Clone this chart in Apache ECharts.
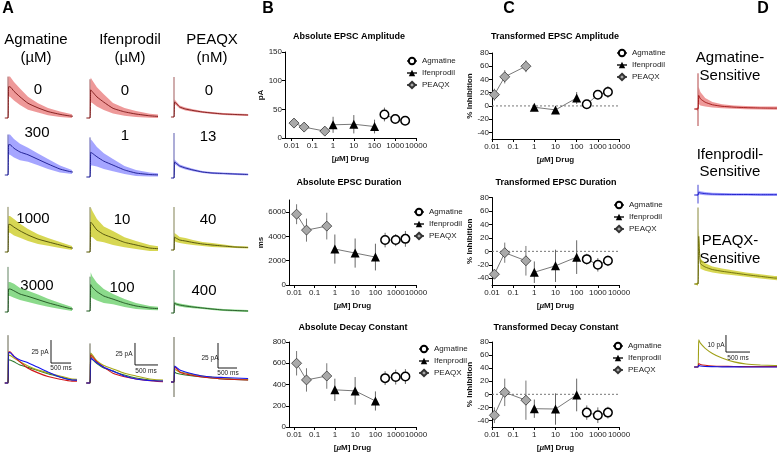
<!DOCTYPE html>
<html><head><meta charset="utf-8">
<script src="https://cdn.jsdelivr.net/npm/echarts@6/dist/echarts.min.js"></script>
<style>html,body{margin:0;padding:0;background:#fff}#c{width:781px;height:454px}</style>
</head><body><div id="c"></div>
<script>
// ================= DATA =================
// Panels B / C : concentrations in µM
const agmConc = [300, 1000, 3000];
const ifenConc = [1, 10, 100];
const peaqxConc = [0.013, 0.04, 0.4];
const xTicks = [0.01, 0.1, 1, 10, 100, 1000, 10000];
const xTickLabels = ['0.01', '0.1', '1', '10', '100', '1000', '10000'];

// B1 Absolute EPSC Amplitude (pA)
const ampAgm = [41, 33, 30], ampAgmErr = [12, 7, 5];
const ampIfen = [23, 24, 20], ampIfenErr = [14, 16, 12];
const ampPeaqx = [26, 19, 12], ampPeaqxErr = [3, 3, 3];
const ampTicks = [0, 50, 100, 150];
// B2 Absolute EPSC Duration (ms)
const durAgm = [3700, 3700, 3800], durAgmErr = [600, 500, 650];
const durIfen = [2960, 2630, 2300], durIfenErr = [1200, 1200, 1100];
const durPeaqx = [5830, 4520, 4850], durPeaqxErr = [820, 950, 1100];
const durTicks = [0, 2000, 4000, 6000];
// B3 Absolute Decay Constant
const decAgm = [460, 470, 475], decAgmErr = [65, 70, 70];
const decIfen = [350, 340, 245], decIfenErr = [105, 130, 90];
const decPeaqx = [600, 443, 480], decPeaqxErr = [115, 110, 120];
const decTicks = [0, 200, 400, 600, 800];
// C1 Transformed EPSC Amplitude (% inhibition)
const tAmpAgm = [2.5, 17, 21], tAmpAgmErr = [3, 7, 9];
const tAmpIfen = [-2, -6, 12], tAmpIfenErr = [4, 5, 9];
const tAmpPeaqx = [17, 44, 60], tAmpPeaqxErr = [9, 10, 9];
// C2 Transformed EPSC Duration
const tDurAgm = [-11.6, -20, -14], tDurAgmErr = [8, 10, 8];
const tDurIfen = [-31, -21.5, -8.6], tDurIfenErr = [16, 24, 25];
const tDurPeaqx = [-34, -2, -14], tDurPeaqxErr = [7, 15, 22];
// C3 Transformed Decay Constant
const tDecAgm = [-28, -32, -28], tDecAgmErr = [11, 12, 9];
const tDecIfen = [-22, -22.5, -1], tDecIfenErr = [14, 24, 25];
const tDecPeaqx = [-32, 3, -9], tDecPeaqxErr = [12, 21, 30];
const inhTicks = [-40, -20, 0, 20, 40, 60, 80];

// Panel A : averaged EPSC traces (time ms, current pA, mean and SEM band)
const traceT = [-80, 0, 15, 50, 150, 300, 500, 750, 1000, 1300, 1600, 1950];
const agmLabels = ['0', '300', '1000', '3000'];
const ifenLabels = ['0', '1', '10', '100'];
const peaqxLabels = ['0', '13', '40', '400'];
const agm0Mean    = [0, 0, 34, 34, 29, 23, 16, 11, 7, 4, 2, 2];
const agm0Sem     = [0, 0.5, 11, 11, 10, 9, 7, 5, 4, 3, 2, 2];
const agm300Mean  = [0, 0, 33, 33, 29, 25, 22, 17, 12, 6.5, 3.3, 3];
const agm300Sem   = [0, 0.5, 11, 11, 10, 9, 7.5, 6.5, 5.4, 3.8, 2.2, 2.2];
const agm1000Mean = [0, 0, 30, 30, 27, 23, 18.5, 14, 11, 7.6, 4.3, 4];
const agm1000Sem  = [0, 0.5, 9, 9, 9, 7.6, 6.5, 5.4, 4.3, 3.3, 2.2, 2.2];
const agm3000Mean = [0, 0, 25, 25, 23, 19.5, 17, 13.5, 10, 6.5, 3.3, 3];
const agm3000Sem  = [0, 0.5, 7.6, 7.6, 7.6, 6.5, 6, 5.4, 4.3, 3.3, 2.2, 2.2];
const ifen0Mean   = [0, 0, 32, 30, 24, 18, 11, 7, 4.5, 2.5, 1.5, 1.5];
const ifen0Sem    = [0, 0.5, 14, 13, 11, 9, 6, 4.5, 3.4, 2.3, 1.7, 1.7];
const ifen1Mean   = [0, 0, 28, 27, 23, 18, 13.5, 8, 4.5, 2.8, 2.2, 2];
const ifen1Sem    = [0, 0.5, 15, 14, 11, 9, 7, 4.5, 3.4, 2.3, 1.7, 1.7];
const ifen10Mean  = [0, 0, 34, 32, 25, 20, 16, 11, 8, 4.5, 3.4, 3.4];
const ifen10Sem   = [0, 0.5, 17, 15, 12.5, 9, 8, 5.7, 4.5, 3.4, 2.3, 2.3];
const ifen100Mean = [0, 0, 30, 27, 22, 17, 13.5, 9, 5.7, 3.4, 2.3, 2.3];
const ifen100Sem  = [0, 0.5, 14, 12.5, 10, 8, 5.7, 4.5, 3.4, 2.3, 1.7, 1.7];
const peaqx0Mean   = [0, 0, 15, 14, 10, 8, 6.5, 5, 4, 3, 2.5, 2];
const peaqx0Sem    = [0, 0.5, 2.5, 2, 1.5, 1.5, 1.2, 1, 1, 1, 1, 1];
const peaqx13Mean  = [0, 0, 16, 15, 12, 10, 8, 6, 5, 4.5, 4, 3.5];
const peaqx13Sem   = [0, 0.5, 2.5, 2, 1.5, 1.5, 1.2, 1, 1, 1, 1, 1];
const peaqx40Mean  = [0, 0, 13, 12, 10, 9, 7.5, 6, 5, 4, 3, 2.5];
const peaqx40Sem   = [0, 0.5, 4, 4, 3, 3, 2.5, 2, 2, 1.5, 1, 1];
const peaqx400Mean = [0, 0, 10, 9, 8, 7, 6, 5, 4, 3, 2.5, 2];
const peaqx400Sem  = [0, 0.5, 1.5, 1.5, 1.5, 1.5, 1.2, 1, 1, 1, 1, 1];
const agmSpike = [45, 44, 49, 49];
const ifenSpike = [44, 45, 51, 39];
const peaqxSpike = [40, 45, 43, 43];
const ovlSpikeLo = [0, 0, -15];
const ovlSpikeHi = [52, 45, 45];
const scaleAmp = 25;   // pA
const scaleTime = 500; // ms

// Panel D : drug-sensitive difference traces
const dAgmMean   = [0, 0, 8, 6, 4, 2.5, 1.6, 1.1, 0.8, 0.6, 0.5, 0.5];
const dAgmSem    = [0, 1, 5, 4, 2.5, 1.6, 1.2, 1, 0.9, 0.9, 0.9, 0.9];
const dIfenMean  = [0, 0, 1.5, 1.2, 0.8, 0.5, 0.4, 0.3, 0.3, 0.2, 0.2, 0.2];
const dIfenSem   = [0, 0.5, 1.2, 1, 0.9, 0.8, 0.8, 0.8, 0.8, 0.8, 0.8, 0.8];
const dPeaqxMean = [0, 0, 28, 12, 10, 8.5, 7.5, 6.5, 5.5, 4.5, 3.5, 3.2];
const dPeaqxSem  = [0, 1, 5, 3, 2.2, 1.8, 1.6, 1.4, 1.3, 1.2, 1.2, 1.2];
const dSpikeHi = [21, 6, 45];
const dSpikeLo = [-10, -5, 0];
const dOvlAgm   = [0, 0, 2, 1.5, 1, 0.6, 0.4, 0.3, 0.2, 0.2, 0.2, 0.2];
const dOvlIfen  = [0, 0, 1, 0.6, 0.3, 0.2, 0.1, 0.1, 0, 0, 0, 0];
const dOvlPeaqx = [0, 0, 16, 14, 11, 8, 5.3, 3, 1.8, 1.2, 0.9, 0.8];
const dScaleAmp = 10; // pA

// ================= BUILD =================
const FONT = '"Liberation Sans", Arial, Helvetica, sans-serif';
const grids = [], xAxis = [], yAxis = [], series = [], graphic = [], legend = [];

function addGrid(rect, xa, ya) {
  const gi = grids.length;
  grids.push(Object.assign({show: false}, rect));
  xAxis.push(Object.assign({gridIndex: gi}, xa));
  yAxis.push(Object.assign({gridIndex: gi}, ya));
  return gi;
}
function hiddenAxis(min, max) { return {type: 'value', min, max, show: false}; }
function text(x, y, str, opt) {
  graphic.push({type: 'text', x, y, silent: true,
    style: Object.assign({text: str, fill: '#000', fontFamily: FONT, fontSize: 15, align: 'center', verticalAlign: 'middle'}, opt || {})});
}

// ---- trace panels ----
const T0 = -100;
function tracePanel(col, baseline, tmax, ky) {
  const k = ky || col.ky;
  const ymin = -20, ymax = 56;
  return addGrid({left: col.x0 + T0 * col.kx, top: baseline - ymax * k, width: (tmax - T0) * col.kx, height: (ymax - ymin) * k},
    hiddenAxis(T0, tmax), hiddenAxis(ymin, ymax));
}
function addBand(gi, mean, sem, color) {
  series.push({type: 'custom', xAxisIndex: gi, yAxisIndex: gi, clip: true, silent: true, z: 2,
    data: [[0, 0]],
    renderItem(params, api) {
      const up = traceT.map((t, i) => api.coord([t, mean[i] + sem[i]]));
      const lo = traceT.map((t, i) => api.coord([t, mean[i] - sem[i]])).reverse();
      return {type: 'polygon', shape: {points: up.concat(lo)}, style: {fill: color}};
    }});
}
function addTrace(gi, vals, color, width, z) {
  series.push({type: 'line', xAxisIndex: gi, yAxisIndex: gi, data: traceT.map((t, i) => [t, vals[i]]),
    symbol: 'none', smooth: 0.15, silent: true, lineStyle: {color, width: width || 1}, z: z || 3});
}
function addSeg(gi, pts, color, width) {
  series.push({type: 'line', xAxisIndex: gi, yAxisIndex: gi, data: pts, symbol: 'none', silent: true,
    lineStyle: {color, width: width || 0.8}, z: 4});
}

const colA = [
  {x0: 8, kx: 0.04, ky: 0.92, tmax: 1600, tOvl: 1675, base: [118, 175, 252, 312, 383], bar: [1075, 21.7]},
  {x0: 90, kx: 0.046, ky: 0.88, tmax: 1456, tOvl: 1565, base: [118, 177, 252, 311, 383], bar: [978, 20.5]},
  {x0: 174, kx: 0.038, ky: 1.0, tmax: 1947, tOvl: 2000, base: [117, 178, 250, 313, 382], bar: [1158, 14]}
];
const rowColors = [
  {band: 'rgba(228,90,90,0.62)', line: '#7a1414', ovl: '#d01818'},
  {band: 'rgba(110,110,255,0.62)', line: '#16168c', ovl: '#1414f0'},
  {band: 'rgba(205,205,40,0.8)', line: '#4a4a08', ovl: '#a8a818'},
  {band: 'rgba(100,205,100,0.75)', line: '#1e4e1e', ovl: '#2d7a2d'}
];
const colData = [
  {means: [agm0Mean, agm300Mean, agm1000Mean, agm3000Mean], sems: [agm0Sem, agm300Sem, agm1000Sem, agm3000Sem], spikes: agmSpike, labels: agmLabels},
  {means: [ifen0Mean, ifen1Mean, ifen10Mean, ifen100Mean], sems: [ifen0Sem, ifen1Sem, ifen10Sem, ifen100Sem], spikes: ifenSpike, labels: ifenLabels},
  {means: [peaqx0Mean, peaqx13Mean, peaqx40Mean, peaqx400Mean], sems: [peaqx0Sem, peaqx13Sem, peaqx40Sem, peaqx400Sem], spikes: peaqxSpike, labels: peaqxLabels}
];
const numPos = [
  [[38, 90], [37, 133], [33, 219], [37, 286]],
  [[125, 91], [125, 136], [122, 220], [122, 288]],
  [[209, 91], [208, 137], [208, 220], [204, 291]]
];
colA.forEach((col, c) => {
  const d = colData[c];
  for (let r = 0; r < 4; r++) {
    const gi = tracePanel(col, col.base[r], col.tmax);
    addBand(gi, d.means[r], d.sems[r], rowColors[r].band);
    addTrace(gi, d.means[r], rowColors[r].line, 0.9, 3);
    addSeg(gi, [[0, 0], [0, d.spikes[r]]], rowColors[r].line, 0.7);
    text(numPos[c][r][0], numPos[c][r][1], d.labels[r]);
  }
  // overlay row
  const gi = tracePanel(col, col.base[4], col.tOvl);
  [3, 2, 0, 1].forEach(r => addTrace(gi, d.means[r], rowColors[r].ovl, 1.1, 3));
  addSeg(gi, [[0, ovlSpikeLo[c]], [0, ovlSpikeHi[c]]], '#3a3a20', 0.8);
  const [bt, by] = col.bar;
  addSeg(gi, [[bt, by + scaleAmp], [bt, by], [bt + scaleTime, by]], '#000', 0.9);
});
// scale bar labels (A)
const barLblStyle = {fontSize: 6.5, fill: '#222'};
text(40, 352, '25 pA', barLblStyle); text(61, 368, '500 ms', barLblStyle);
text(124, 354, '25 pA', barLblStyle); text(146, 371, '500 ms', barLblStyle);
text(210, 358, '25 pA', barLblStyle); text(228, 373, '500 ms', barLblStyle);
// headers
text(36, 40, 'Agmatine'); text(36, 58, '(\u00b5M)');
text(130, 40, 'Ifenprodil'); text(130, 58, '(\u00b5M)');
text(212, 40, 'PEAQX'); text(212, 58, '(nM)');

// ---- panel D ----
const colD = {x0: 698, kx: 0.048, ky: 1.7, tmax: 1625};
const dBase = [109, 195, 284, 367];
const dRows = [
  {mean: dAgmMean, sem: dAgmSem, c: rowColors[0], line: '#a01414'},
  {mean: dIfenMean, sem: dIfenSem, c: rowColors[1], line: '#1414c8'},
  {mean: dPeaqxMean, sem: dPeaqxSem, c: rowColors[2], line: '#6a6a08'}
];
dRows.forEach((row, r) => {
  const gi = tracePanel(colD, dBase[r], colD.tmax);
  addBand(gi, row.mean, row.sem, row.c.band);
  addTrace(gi, row.mean, row.line, 0.9, 3);
  addSeg(gi, [[0, dSpikeLo[r]], [0, dSpikeHi[r]]], row.line, 0.8);
});
{
  const gi = tracePanel(colD, dBase[3], colD.tmax);
  addTrace(gi, dOvlPeaqx, '#a0a018', 1.1, 3);
  addTrace(gi, dOvlAgm, '#c81818', 1.1, 3);
  addTrace(gi, dOvlIfen, '#1414e0', 1.1, 3);
  addSeg(gi, [[583, 8.8 + dScaleAmp], [583, 8.8], [583 + scaleTime, 8.8]], '#000', 0.9);
}
text(716, 345, '10 pA', barLblStyle); text(738, 358, '500 ms', barLblStyle);
text(730, 58, 'Agmatine-'); text(730, 76, 'Sensitive');
text(730, 155, 'Ifenprodil-'); text(730, 172, 'Sensitive');
text(730, 241, 'PEAQX-'); text(730, 259, 'Sensitive');

// ---- dose-response panels (B, C) ----
const drugStyle = {
  Agmatine: {symbol: 'circle', symbolSize: 8.5, itemStyle: {color: '#fff', borderColor: '#000', borderWidth: 1.5}, err: '#666'},
  Ifenprodil: {symbol: 'triangle', symbolSize: 9, itemStyle: {color: '#000'}, err: '#666'},
  PEAQX: {symbol: 'diamond', symbolSize: 10, itemStyle: {color: '#a9a9a9', borderColor: '#333', borderWidth: 0.8}, err: '#777'}
};
const drugConc = {Agmatine: agmConc, Ifenprodil: ifenConc, PEAQX: peaqxConc};
const logTicks = xTicks.map(v => Math.log10(v));

function dosePanel(p) {
  const axisStyle = {show: true, onZero: false, lineStyle: {color: '#000', width: 1}};
  const gi = addGrid({left: p.left, top: p.top, width: p.width, height: p.height},
    {type: 'value', min: p.xmin, max: 4, axisLine: axisStyle,
     axisTick: {show: true, length: 3, lineStyle: {color: '#000', width: 1}, customValues: logTicks},
     axisLabel: {show: true, fontSize: 8, color: '#222', fontFamily: FONT, margin: 4, customValues: logTicks,
       formatter: v => xTickLabels[Math.round(v) + 2]},
     splitLine: {show: false},
     name: '[{i|\u00b5}M] Drug', nameLocation: 'middle', nameGap: 17,
     nameTextStyle: {fontSize: 8, fontWeight: 'bold', fontFamily: FONT, color: '#111',
       rich: {i: {fontStyle: 'italic', fontWeight: 'bold', fontSize: 8, fontFamily: FONT, color: '#111'}}}},
    {type: 'value', min: p.ymin, max: p.ymax, axisLine: axisStyle,
     axisTick: {show: true, length: 3, lineStyle: {color: '#000', width: 1}, customValues: p.yTicks},
     axisLabel: {show: true, fontSize: 8, color: '#222', fontFamily: FONT, margin: 3, customValues: p.yTicks,
       formatter: v => String(v)},
     splitLine: {show: false},
     name: p.yName || '', nameLocation: 'middle', nameGap: p.yNameGap || 15,
     nameTextStyle: {fontSize: 8, fontWeight: 'bold', fontFamily: FONT, color: '#111'}});
  if (p.zero) {
    series.push({type: 'line', xAxisIndex: gi, yAxisIndex: gi, data: [[p.xmin, 0], [4, 0]], symbol: 'none', silent: true,
      lineStyle: {color: '#777', width: 1, type: [2, 2]}, z: 1});
  }
  ['Agmatine', 'Ifenprodil', 'PEAQX'].forEach(name => {
    const [vals, errs] = p.vals[name];
    const st = drugStyle[name];
    const data = drugConc[name].map((c, i) => [Math.log10(c), vals[i], errs[i]]);
    series.push({type: 'custom', name: name + ' SEM', xAxisIndex: gi, yAxisIndex: gi, data, z: 2, silent: true,
      renderItem(params, api) {
        const x = api.value(0), y = api.value(1), e = api.value(2);
        const a = api.coord([x, y - e]), b = api.coord([x, y + e]);
        return {type: 'line', shape: {x1: a[0], y1: a[1], x2: b[0], y2: b[1]}, style: {stroke: st.err, lineWidth: 1}};
      }});
    series.push({type: 'line', name, xAxisIndex: gi, yAxisIndex: gi, data: data.map(d => [d[0], d[1]]),
      symbol: st.symbol, symbolSize: st.symbolSize, showSymbol: true, itemStyle: st.itemStyle,
      lineStyle: {color: '#555', width: 0.8}, z: 3, silent: true});
  });
  legend.push({data: ['Agmatine', 'Ifenprodil', 'PEAQX'], orient: 'vertical', left: p.lx, top: p.ly, padding: 0,
    itemWidth: 10, itemHeight: 8, itemGap: 3, selectedMode: false,
    textStyle: {fontSize: 8, color: '#222', fontFamily: FONT, lineHeight: 9}});
  text(p.tx, p.ty, p.title, {fontSize: 9, fontWeight: 'bold'});
}

dosePanel({left: 285, top: 52, width: 131, height: 86, xmin: -2.32, ymin: 0, ymax: 150, yTicks: ampTicks,
  yName: 'pA', yNameGap: 17, title: 'Absolute EPSC Amplitude', tx: 349, ty: 37, lx: 406, ly: 56.5,
  vals: {Agmatine: [ampAgm, ampAgmErr], Ifenprodil: [ampIfen, ampIfenErr], PEAQX: [ampPeaqx, ampPeaqxErr]}});
dosePanel({left: 289, top: 200, width: 127, height: 85, xmin: -2.26, ymin: 0, ymax: 7000, yTicks: durTicks,
  yName: 'ms', yNameGap: 21, title: 'Absolute EPSC Duration', tx: 349, ty: 183, lx: 413, ly: 207.5,
  vals: {Agmatine: [durAgm, durAgmErr], Ifenprodil: [durIfen, durIfenErr], PEAQX: [durPeaqx, durPeaqxErr]}});
dosePanel({left: 289, top: 342, width: 127, height: 85, xmin: -2.26, ymin: 0, ymax: 800, yTicks: decTicks,
  title: 'Absolute Decay Constant', tx: 353, ty: 328, lx: 418, ly: 344.5,
  vals: {Agmatine: [decAgm, decAgmErr], Ifenprodil: [decIfen, decIfenErr], PEAQX: [decPeaqx, decPeaqxErr]}});
dosePanel({left: 492, top: 53, width: 127, height: 86, xmin: -2, ymin: -50, ymax: 80, yTicks: inhTicks, zero: true,
  yName: '% Inhibition', yNameGap: 14, title: 'Transformed EPSC Amplitude', tx: 555, ty: 37, lx: 616, ly: 48.5,
  vals: {Agmatine: [tAmpAgm, tAmpAgmErr], Ifenprodil: [tAmpIfen, tAmpIfenErr], PEAQX: [tAmpPeaqx, tAmpPeaqxErr]}});
dosePanel({left: 492, top: 197.5, width: 127, height: 87.5, xmin: -2, ymin: -50, ymax: 80, yTicks: inhTicks, zero: true,
  yName: '% Inhibition', yNameGap: 14, title: 'Transformed EPSC Duration', tx: 556, ty: 183, lx: 613, ly: 200.5,
  vals: {Agmatine: [tDurAgm, tDurAgmErr], Ifenprodil: [tDurIfen, tDurIfenErr], PEAQX: [tDurPeaqx, tDurPeaqxErr]}});
dosePanel({left: 492, top: 342, width: 127, height: 85, xmin: -2, ymin: -50, ymax: 80, yTicks: inhTicks, zero: true,
  yName: '% Inhibition', yNameGap: 14, title: 'Transformed Decay Constant', tx: 556, ty: 328, lx: 612, ly: 341.5,
  vals: {Agmatine: [tDecAgm, tDecAgmErr], Ifenprodil: [tDecIfen, tDecIfenErr], PEAQX: [tDecPeaqx, tDecPeaqxErr]}});

// panel letters
const letterStyle = {fontSize: 16, fontWeight: 'bold'};
text(8, 9, 'A', letterStyle); text(268, 9, 'B', letterStyle); text(509, 9, 'C', letterStyle); text(763, 9, 'D', letterStyle);

const chart = echarts.init(document.getElementById('c'), null, {renderer: 'canvas', width: 781, height: 454});
chart.setOption({animation: false, backgroundColor: '#fff', grid: grids, xAxis, yAxis, series, legend, graphic: {elements: graphic}});
</script></body></html>
